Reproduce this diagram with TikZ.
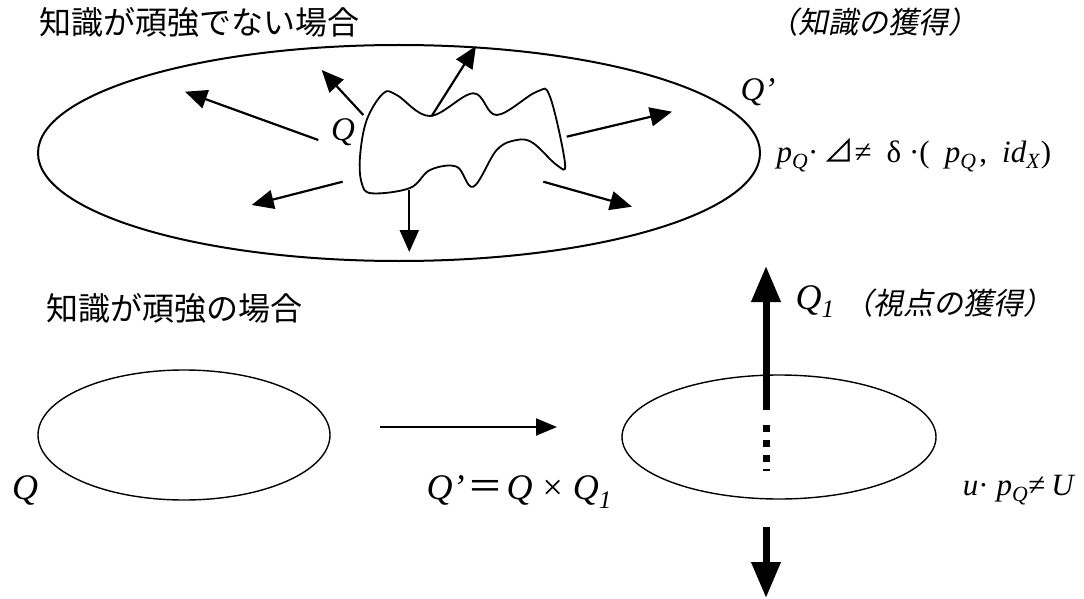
\documentclass[tikz,border=0pt]{standalone}
\usepackage{fontspec}
\setmainfont{Liberation Serif}
\newfontfamily\jp{Noto Sans CJK JP}
\newfontfamily\jpit[FakeSlant=0.2]{Noto Sans CJK JP}
\usetikzlibrary{arrows.meta,shapes.geometric}
\begin{document}
\begin{tikzpicture}[x=1pt,y=-1pt,
  thinarrow/.style={line width=2.2pt,-{Triangle[length=22pt,width=19pt]}},
  hzarrow/.style={line width=2pt,-{Triangle[length=21pt,width=17pt]}},
  bigarrow/.style={line width=7pt,-{Triangle[length=36pt,width=28pt]}},
  oval/.style={draw,ellipse,inner sep=0pt,line width=1.4pt},
  jptitle/.style={font=\jp\fontsize{32}{32}\selectfont},
  jpnote/.style={font=\jpit\fontsize{30}{30}\selectfont},
  lab/.style={font=\fontsize{33}{33}\selectfont\itshape},
  blab/.style={font=\fontsize{36}{36}\selectfont\itshape},
  formula/.style={font=\fontsize{31}{31}\selectfont}]
\useasboundingbox (0,0) rectangle (1084,599);
\fill[white] (0,0) rectangle (1084,599);

% texts
\node[jptitle] (t1) at (199,22) {知識が頑強でない場合};
\node[jpnote] (n1) at (873,22) {（知識の獲得）};
\node[jptitle] (t2) at (174,308) {知識が頑強の場合};
\node[jpnote] (n2) at (948,303) {（視点の獲得）};

% top ellipse
\draw[line width=2pt] (399,153) ellipse [x radius=361pt, y radius=108pt];
\coordinate (big) at (399,153);
\draw[line width=1.8pt] plot[smooth cycle,tension=0.6] coordinates {
 (366.7,120) (383.3,93.3) (396.7,95) (430,116) (473.3,93.3) (496.7,115)
 (536.7,91.7) (550,96.7) (565,163.3) (556.7,165) (533,143) (516.7,140)
 (496.7,150) (473.3,186.7) (456.7,166.7) (430,170) (410,188) (371.7,193.3)
 (361.7,183) (360,156.7)};
\node[lab] (q) at (343,132) {Q};
\node[lab] (qp) at (758,92) {Q’};
\node[formula,anchor=west] (f1) at (773,155)
 {\textit{p}\textsubscript{\textit{Q}}·\hspace{5pt}{\jp ⊿}≠\hspace{15pt}δ\hspace{8pt}·(\hspace{15pt}\textit{p}\textsubscript{\textit{Q}}\hspace{3pt},\hspace{15pt}\textit{id}\textsubscript{\textit{X}})};

% arrows from the blob
\coordinate (a1s) at (318.3,140); \coordinate (a1e) at (185,91.7);
\coordinate (a2s) at (363.3,115); \coordinate (a2e) at (321.7,70);
\coordinate (a3s) at (431.7,116); \coordinate (a3e) at (476,46);
\coordinate (a4s) at (566.7,136.7); \coordinate (a4e) at (672,111.7);
\coordinate (a5s) at (543.3,181.7); \coordinate (a5e) at (632,206.7);
\coordinate (a6s) at (409.3,190); \coordinate (a6e) at (409.3,252);
\coordinate (a7s) at (342.7,181.7); \coordinate (a7e) at (251.7,205);
\foreach \i in {1,...,7} \draw[thinarrow] (a\i s) -- (a\i e);

% bottom part
\node[oval,minimum width=292pt,minimum height=130pt] (e1) at (184,435) {};
\node[blab] (q2) at (25,490) {Q};
\coordinate (hs) at (380,427); \coordinate (he) at (557,427);
\draw[hzarrow] (hs) -- (he);
\node[blab,anchor=west] (prod) at (423,492) {Q’\hspace{3pt}{\jp\upshape ＝}\hspace{3pt}Q\hspace{10pt}{\upshape ×}\hspace{10pt}Q\textsubscript{\textit{1}}};
\node[oval,minimum width=314pt,minimum height=124pt] (e2) at (779,437) {};
\node[blab,anchor=west] (q1) at (792,302) {Q\textsubscript{\textit{1}}};
\node[formula,anchor=east] (f2) at (1079,490)
 {\textit{u}·\hspace{8pt}\textit{p}\textsubscript{\textit{Q}}≠\hspace{6pt}\textit{U}};

% vertical arrow
\coordinate (us) at (766,410); \coordinate (ue) at (766,266);
\draw[bigarrow] (us) -- (ue);
\foreach \y in {425,440,455} \fill (762.5,\y) rectangle +(7,7);
\fill (762.5,469) rectangle +(7,2);
\coordinate (ds) at (766,527); \coordinate (de) at (766,598);
\draw[bigarrow] (ds) -- (de);
\end{tikzpicture}
\end{document}
